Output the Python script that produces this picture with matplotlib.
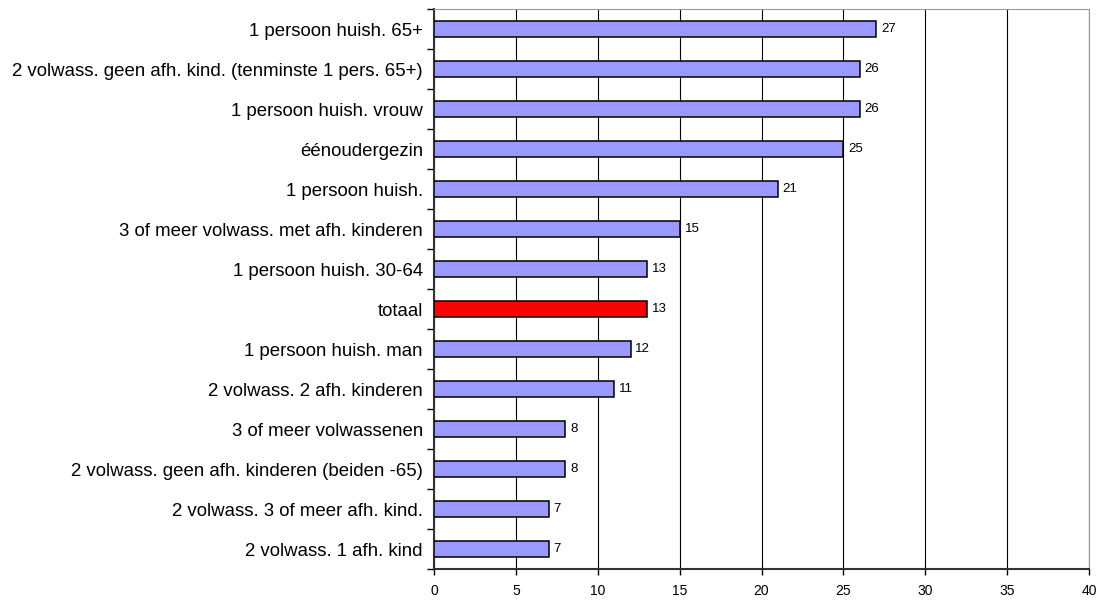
import matplotlib
matplotlib.use("Agg")
import matplotlib.pyplot as plt
import numpy as np

plt.rcParams['font.family'] = ['Liberation Sans', 'DejaVu Sans']

categories = [
    "1 persoon huish. 65+",
    "2 volwass. geen afh. kind. (tenminste 1 pers. 65+)",
    "1 persoon huish. vrouw",
    "éénoudergezin",
    "1 persoon huish.",
    "3 of meer volwass. met afh. kinderen",
    "1 persoon huish. 30-64",
    "totaal",
    "1 persoon huish. man",
    "2 volwass. 2 afh. kinderen",
    "3 of meer volwassenen",
    "2 volwass. geen afh. kinderen (beiden -65)",
    "2 volwass. 3 of meer afh. kind.",
    "2 volwass. 1 afh. kind",
]
values = [27, 26, 26, 25, 21, 15, 13, 13, 12, 11, 8, 8, 7, 7]
highlight = "totaal"
xticks = [0, 5, 10, 15, 20, 25, 30, 35, 40]

W, H = 1100, 601
fig = plt.figure(figsize=(W / 100, H / 100), dpi=100)
left, right, top, bottom = 434, 1089, 9, 569
ax = fig.add_axes([left / W, (H - bottom) / H, (right - left) / W, (bottom - top) / H])

n = len(categories)
y = np.arange(n)[::-1]
colors = ['#FF0000' if c == highlight else '#9999FF' for c in categories]
ax.barh(y, values, height=0.38, color=colors, edgecolor='black', linewidth=1.1, zorder=3)

for yi, v in zip(y, values):
    ax.text(v + 0.3, yi, str(v), va='center', ha='left', fontsize=9.5, color='black')

ax.set_xlim(0, 40)
ax.set_ylim(-0.5, n - 0.5)
ax.set_xticks(xticks)
ax.set_xticklabels([str(t) for t in xticks], fontsize=10)
ax.tick_params(axis='x', length=4, width=1, direction='out', pad=7, colors='black')

ax.set_yticks(y)
ax.set_yticklabels(categories, fontsize=13.4)
ax.tick_params(axis='y', which='major', length=0, pad=8)
ax.set_yticks(np.arange(n + 1) - 0.5, minor=True)
ax.tick_params(axis='y', which='minor', length=5, width=1, direction='out')

ax.grid(axis='x', color='black', linewidth=0.8, zorder=0)
ax.set_axisbelow(True)

for s in ['left', 'bottom']:
    ax.spines[s].set_color('#333333')
    ax.spines[s].set_linewidth(1.5)
for s in ['top', 'right']:
    ax.spines[s].set_color('#999999')
    ax.spines[s].set_linewidth(0.8)

fig.savefig('out.png', dpi=100)
